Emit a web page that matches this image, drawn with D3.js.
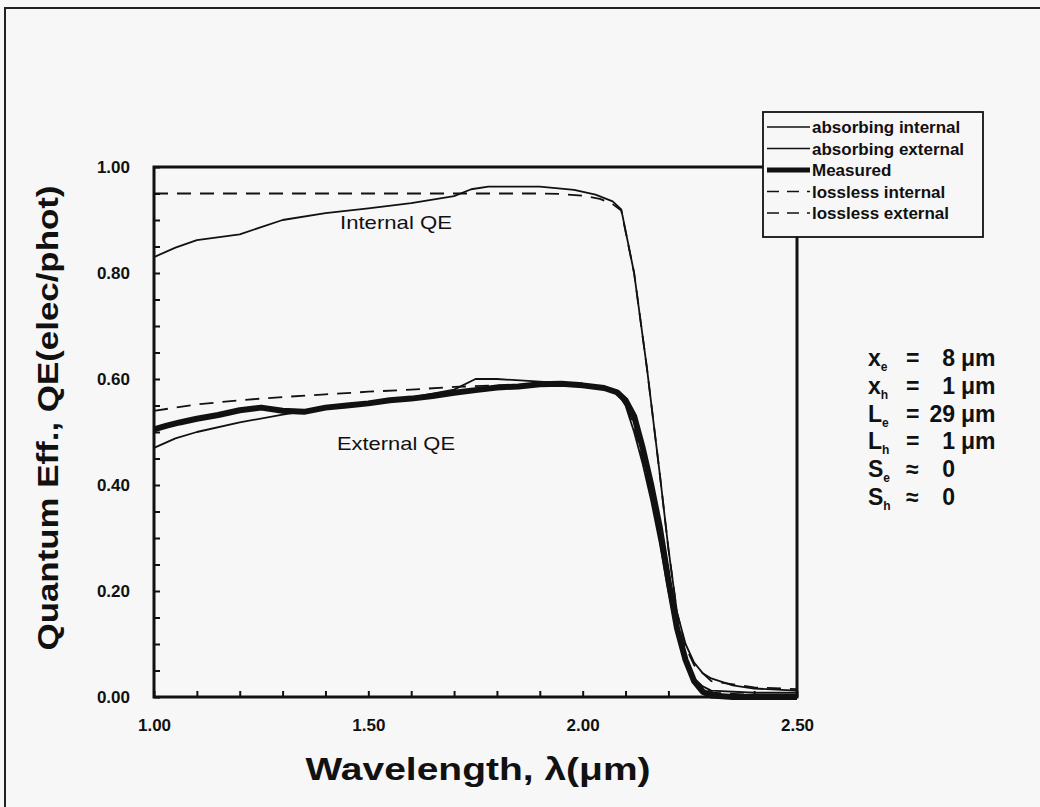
<!DOCTYPE html>
<html>
<head>
<meta charset="utf-8">
<script src="https://cdn.jsdelivr.net/npm/d3@7"></script>
<style>
  body { margin: 0; background: #f7f7f7; }
  svg { display: block; }
  text { font-family: "Liberation Sans", Arial, sans-serif; fill: #111; }
</style>
</head>
<body>
<div id="chart"></div>
<script>
// wavelength (um) / quantum efficiency
const absIntWl = [1.00, 1.05, 1.10, 1.20, 1.30, 1.40, 1.50, 1.60, 1.70, 1.74, 1.78, 1.90, 1.98, 2.03, 2.07, 2.09, 2.12, 2.15, 2.18, 2.20, 2.22, 2.24, 2.26, 2.28, 2.30, 2.35, 2.40, 2.50];
const absIntQE = [0.830, 0.848, 0.862, 0.873, 0.900, 0.913, 0.922, 0.932, 0.945, 0.958, 0.963, 0.963, 0.957, 0.948, 0.935, 0.920, 0.800, 0.620, 0.420, 0.280, 0.160, 0.100, 0.065, 0.045, 0.035, 0.022, 0.016, 0.012];

const absExtWl = [1.00, 1.05, 1.10, 1.20, 1.30, 1.40, 1.50, 1.60, 1.70, 1.75, 1.80, 1.90, 2.00, 2.05, 2.08, 2.10, 2.12, 2.14, 2.16, 2.18, 2.20, 2.22, 2.24, 2.26, 2.28, 2.30, 2.40, 2.50];
const absExtQE = [0.470, 0.488, 0.500, 0.518, 0.533, 0.545, 0.555, 0.565, 0.580, 0.600, 0.600, 0.595, 0.590, 0.585, 0.575, 0.550, 0.500, 0.440, 0.370, 0.290, 0.200, 0.120, 0.065, 0.035, 0.020, 0.012, 0.008, 0.008];

const measWl = [1.00, 1.03, 1.06, 1.10, 1.15, 1.20, 1.25, 1.30, 1.35, 1.40, 1.45, 1.50, 1.55, 1.60, 1.65, 1.70, 1.75, 1.80, 1.85, 1.90, 1.95, 2.00, 2.05, 2.08, 2.10, 2.12, 2.14, 2.16, 2.18, 2.20, 2.22, 2.24, 2.26, 2.28, 2.30, 2.35, 2.50];
const measQE = [0.505, 0.512, 0.518, 0.525, 0.532, 0.541, 0.546, 0.540, 0.538, 0.546, 0.550, 0.554, 0.560, 0.563, 0.568, 0.574, 0.579, 0.584, 0.586, 0.590, 0.591, 0.588, 0.583, 0.575, 0.560, 0.530, 0.470, 0.400, 0.320, 0.220, 0.130, 0.070, 0.030, 0.010, 0.003, 0.000, 0.000];

const lossIntWl = [1.00, 1.90, 1.95, 2.00, 2.04, 2.07, 2.09, 2.12, 2.15, 2.18, 2.20, 2.22, 2.24, 2.26, 2.30, 2.40, 2.50];
const lossIntQE = [0.950, 0.950, 0.949, 0.946, 0.940, 0.930, 0.918, 0.800, 0.620, 0.420, 0.280, 0.160, 0.095, 0.060, 0.030, 0.018, 0.015];

const lossExtWl = [1.00, 1.10, 1.20, 1.30, 1.40, 1.50, 1.60, 1.70, 1.80, 1.90, 2.00, 2.05, 2.08, 2.10, 2.12, 2.14, 2.16, 2.18, 2.20, 2.22, 2.24, 2.26, 2.30, 2.40, 2.50];
const lossExtQE = [0.540, 0.552, 0.560, 0.566, 0.571, 0.576, 0.580, 0.585, 0.588, 0.590, 0.588, 0.583, 0.575, 0.555, 0.510, 0.450, 0.380, 0.300, 0.210, 0.125, 0.068, 0.032, 0.008, 0.004, 0.004];

const legendNames = ["absorbing internal", "absorbing external", "Measured", "lossless internal", "lossless external"];
const xTickLabels = ["1.00", "1.50", "2.00", "2.50"];
const yTickLabels = ["0.00", "0.20", "0.40", "0.60", "0.80", "1.00"];

const paramSymbols = ["x", "x", "L", "L", "S", "S"];
const paramSubs = ["e", "h", "e", "h", "e", "h"];
const paramRels = ["=", "=", "=", "=", "\u2248", "\u2248"];
const paramValues = ["8", "1", "29", "1", "0", "0"];
const paramUnits = ["\u03bcm", "\u03bcm", "\u03bcm", "\u03bcm", "", ""];

const width = 1040, height = 807;
const plot = { left: 154, top: 167, right: 797, bottom: 697 };

const svg = d3.select("#chart").append("svg")
    .attr("width", width)
    .attr("height", height);

svg.append("rect").attr("width", width).attr("height", height).attr("fill", "#f7f7f7");

// page border of the scan
svg.append("path")
    .attr("d", "M5,807 L5,8 L1040,8")
    .attr("fill", "none")
    .attr("stroke", "#222")
    .attr("stroke-width", 2);

const x = d3.scaleLinear().domain([1, 2.5]).range([plot.left, plot.right]);
const y = d3.scaleLinear().domain([0, 1]).range([plot.bottom, plot.top]);

// minor ticks (inside)
svg.append("g")
    .attr("transform", "translate(0," + plot.bottom + ")")
    .call(d3.axisBottom(x).tickValues(d3.range(1, 2.501, 0.1)).tickSize(-6).tickFormat(""))
    .call(g => g.select(".domain").remove())
    .call(g => g.selectAll("line").attr("stroke", "#111").attr("stroke-width", 2));

svg.append("g")
    .attr("transform", "translate(" + plot.left + ",0)")
    .call(d3.axisLeft(y).tickValues(d3.range(0, 1.001, 0.05)).tickSize(-6).tickFormat(""))
    .call(g => g.select(".domain").remove())
    .call(g => g.selectAll("line").attr("stroke", "#111").attr("stroke-width", 2));

// labelled axes
svg.append("g")
    .attr("transform", "translate(0," + plot.bottom + ")")
    .call(d3.axisBottom(x).tickValues(xTickLabels.map(Number)).tickSize(0).tickPadding(22)
        .tickFormat((d, i) => xTickLabels[i]))
    .call(g => g.select(".domain").remove())
    .call(g => g.selectAll("text").attr("font-size", 17).attr("font-weight", "bold")
        .attr("font-family", "Liberation Sans, Arial, sans-serif").attr("fill", "#111"));

svg.append("g")
    .attr("transform", "translate(" + plot.left + ",0)")
    .call(d3.axisLeft(y).tickValues(yTickLabels.map(Number)).tickSize(0).tickPadding(24)
        .tickFormat((d, i) => yTickLabels[i]))
    .call(g => g.select(".domain").remove())
    .call(g => g.selectAll("text").attr("font-size", 17).attr("font-weight", "bold")
        .attr("font-family", "Liberation Sans, Arial, sans-serif").attr("fill", "#111"));

// plot frame
svg.append("rect")
    .attr("x", plot.left).attr("y", plot.top)
    .attr("width", plot.right - plot.left).attr("height", plot.bottom - plot.top)
    .attr("fill", "none").attr("stroke", "#111").attr("stroke-width", 3);

const line = d3.line().x(d => x(d[0])).y(d => y(d[1])).curve(d3.curveLinear);
const zip = (a, b) => a.map((v, i) => [v, b[i]]);

const series = [
    { name: legendNames[0], pts: zip(absIntWl, absIntQE), w: 1.8, dash: null },
    { name: legendNames[1], pts: zip(absExtWl, absExtQE), w: 1.8, dash: null },
    { name: legendNames[3], pts: zip(lossIntWl, lossIntQE), w: 1.8, dash: "14,9" },
    { name: legendNames[4], pts: zip(lossExtWl, lossExtQE), w: 1.8, dash: "14,9" },
    { name: legendNames[2], pts: zip(measWl, measQE), w: 6, dash: null }
];

svg.selectAll(".curve")
    .data(series)
    .enter().append("path")
    .attr("class", "curve")
    .attr("d", d => line(d.pts))
    .attr("fill", "none")
    .attr("stroke", "#111")
    .attr("stroke-width", d => d.w)
    .attr("stroke-linejoin", "round")
    .attr("stroke-dasharray", d => d.dash);

// curve annotations
svg.append("text").attr("x", 396).attr("y", 229).attr("text-anchor", "middle")
    .attr("font-size", 19).attr("textLength", 112).attr("lengthAdjust", "spacingAndGlyphs")
    .text("Internal QE");
svg.append("text").attr("x", 396).attr("y", 450).attr("text-anchor", "middle")
    .attr("font-size", 19).attr("textLength", 118).attr("lengthAdjust", "spacingAndGlyphs")
    .text("External QE");

// legend
const lg = svg.append("g");
lg.append("rect")
    .attr("x", 763).attr("y", 112).attr("width", 220).attr("height", 125)
    .attr("fill", "#f7f7f7").attr("stroke", "#111").attr("stroke-width", 1.8);

const legendStyle = [
    { w: 1.6, dash: null }, { w: 1.6, dash: null }, { w: 5, dash: null },
    { w: 1.6, dash: "12,8" }, { w: 1.6, dash: "12,8" }
];
legendNames.forEach((name, i) => {
    const cy = 127 + i * 21.5;
    lg.append("line")
        .attr("x1", 767).attr("x2", 810).attr("y1", cy).attr("y2", cy)
        .attr("stroke", "#111").attr("stroke-width", legendStyle[i].w)
        .attr("stroke-dasharray", legendStyle[i].dash);
    lg.append("text").attr("x", 812).attr("y", cy + 6)
        .attr("font-size", 17).attr("font-weight", "bold").text(name);
});

// model parameters
const pg = svg.append("g").attr("font-weight", "bold");
paramSymbols.forEach((s, i) => {
    const by = 366 + i * 27.8;
    const t = pg.append("text").attr("x", 868).attr("y", by).attr("font-size", 23);
    t.append("tspan").text(s);
    t.append("tspan").attr("font-size", 12).attr("dy", 5).text(paramSubs[i]);
    pg.append("text").attr("x", 906).attr("y", by).attr("font-size", 23).text(paramRels[i]);
    pg.append("text").attr("x", 955).attr("y", by).attr("font-size", 23)
        .attr("text-anchor", "end").text(paramValues[i]);
    pg.append("text").attr("x", 961).attr("y", by).attr("font-size", 23).text(paramUnits[i]);
});

// axis titles
svg.append("text")
    .attr("transform", "translate(58,418) rotate(-90)")
    .attr("text-anchor", "middle")
    .attr("font-size", 30).attr("font-weight", "bold")
    .attr("textLength", 465).attr("lengthAdjust", "spacingAndGlyphs")
    .text("Quantum Eff.,  QE(elec/phot)");

svg.append("text")
    .attr("x", 478).attr("y", 780)
    .attr("text-anchor", "middle")
    .attr("font-size", 32).attr("font-weight", "bold")
    .attr("textLength", 345).attr("lengthAdjust", "spacingAndGlyphs")
    .text("Wavelength,  \u03bb(\u03bcm)");
</script>
</body>
</html>
